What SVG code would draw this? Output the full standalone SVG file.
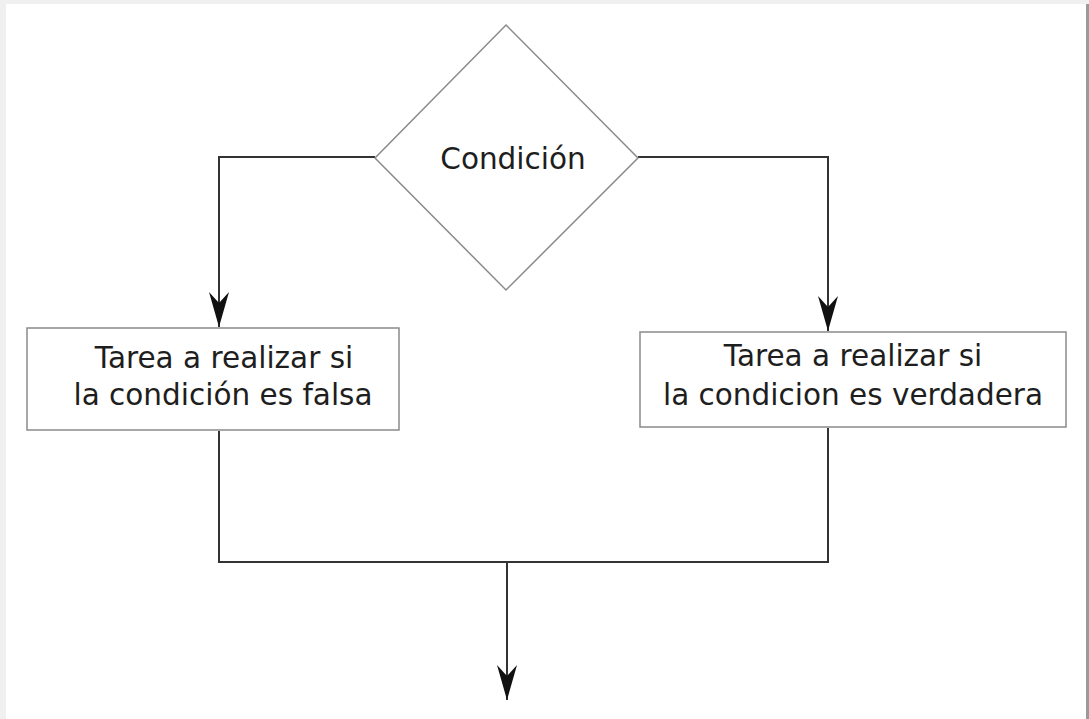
<svg xmlns="http://www.w3.org/2000/svg" width="1089" height="719" viewBox="0 0 1089 719">
  <defs>
    <style>
      .shape { fill: #ffffff; stroke: #8a8a8a; stroke-width: 1.5; }
      .conn { fill: none; stroke: #333333; stroke-width: 2; }
      .lbl { font-family: "DejaVu Sans", "Verdana", sans-serif; font-size: 29.5px; fill: #1e1e1e; text-anchor: middle; }
    </style>
    <marker id="arrow" markerUnits="userSpaceOnUse" markerWidth="38" markerHeight="24" refX="36" refY="12" orient="auto" viewBox="0 0 38 24">
      <path d="M36,12 L1,2 L12,12 L1,22 Z" fill="#111111"/>
    </marker>
  </defs>
  <rect x="0" y="0" width="1089" height="719" fill="#f0f0f0"/>
  <rect x="6" y="4" width="1080" height="715" fill="#ffffff"/>
  <rect x="1086" y="4" width="3" height="715" fill="#9a9a9a"/>

  <g id="connectors">
    <path class="conn" d="M375,157 H219 V327" marker-end="url(#arrow)"/>
    <path class="conn" d="M638,157 H828 V331" marker-end="url(#arrow)"/>
    <path class="conn" d="M219,431 V562 H828 V428"/>
    <path class="conn" d="M507,562 V700" marker-end="url(#arrow)"/>
  </g>

  <g id="node-condicion">
    <polygon class="shape" points="506,25 638,158 506,290 375,158"/>
    <text class="lbl" x="513" y="169">Condición</text>
  </g>

  <g id="node-falsa">
    <rect class="shape" x="27" y="328" width="372" height="102"/>
    <text class="lbl" x="224" y="368">Tarea a realizar si</text>
    <text class="lbl" x="223" y="405">la condición es falsa</text>
  </g>

  <g id="node-verdadera">
    <rect class="shape" x="640" y="332" width="426" height="95"/>
    <text class="lbl" x="853" y="366">Tarea a realizar si</text>
    <text class="lbl" x="853" y="405">la condicion es verdadera</text>
  </g>
</svg>
